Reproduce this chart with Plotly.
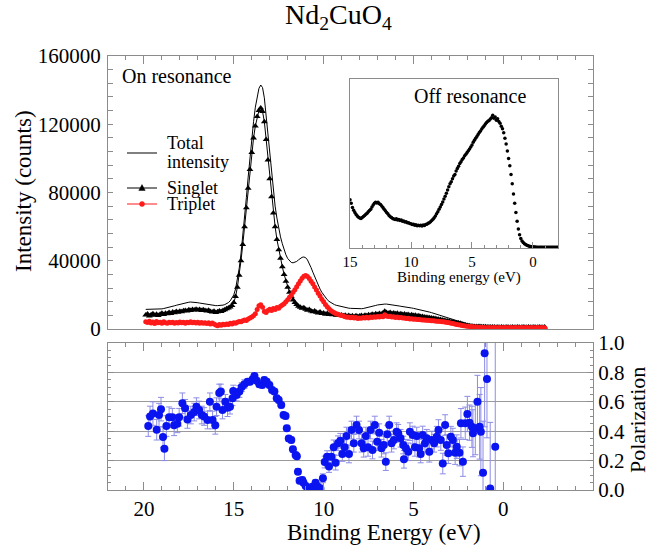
import numpy as np
import plotly.graph_objects as go

# ---------------- data ----------------
# On-resonance spectra: binding energy grid 19.9 ... -2.3 eV (0.1 eV steps)
energy_on = np.round(np.arange(199, -24, -1) * 0.1, 1)

# intensities in thousands of counts
total_k = [
    11.5, 11.5, 11.4, 11.4, 11.4, 11.5, 11.5, 11.6, 11.7, 11.8,
    12.0, 12.2, 12.4, 12.7, 13.0, 13.3, 13.6, 13.9, 14.2, 14.5,
    14.8, 15.1, 15.3, 15.5, 15.7, 15.8, 15.8, 15.7, 15.6, 15.4,
    15.2, 15.0, 14.8, 14.6, 14.4, 14.2, 14.0, 13.9, 13.8, 13.7,
    13.7, 13.7, 13.8, 14.0, 14.3, 14.8, 15.5, 16.5, 18.0, 20.0,
    23.5, 28.5, 35.5, 44.0, 54.0, 65.0, 77.0, 89.0, 101.0, 112.0,
    121.5, 130.0, 136.5, 141.0, 143.0, 141.5, 135.5, 125.0, 113.0, 101.0,
    90.0, 80.5, 72.0, 65.0, 59.0, 54.0, 50.0, 46.5, 43.5, 41.3,
    39.8, 39.0, 38.8, 39.0, 39.6, 40.5, 41.3, 42.0, 42.2, 41.8,
    40.5, 38.5, 36.0, 33.3, 30.6, 28.0, 25.6, 23.4, 21.5, 19.8,
    18.4, 17.2, 16.2, 15.4, 14.8, 14.3, 13.9, 13.6, 13.3, 13.0,
    12.8, 12.6, 12.4, 12.2, 12.1, 12.0, 11.9, 11.9, 11.8, 11.8,
    11.9, 12.0, 12.2, 12.4, 12.6, 12.9, 13.2, 13.5, 13.8, 14.1,
    14.3, 14.5, 14.6, 14.6, 14.6, 14.5, 14.3, 14.1, 13.9, 13.7,
    13.6, 13.5, 13.3, 13.2, 13.0, 12.8, 12.6, 12.5, 12.3, 12.1,
    11.9, 11.7, 11.5, 11.2, 11.0, 10.7, 10.5, 10.2, 9.9, 9.6,
    9.3, 9.0, 8.7, 8.4, 8.1, 7.8, 7.5, 7.1, 6.8, 6.4,
    6.0, 5.6, 5.2, 4.9, 4.5, 4.1, 3.7, 3.3, 3.0, 2.7,
    2.5, 2.3, 2.2, 2.1, 2.0, 1.9, 1.9, 1.8, 1.8, 1.8,
    1.7, 1.7, 1.7, 1.7, 1.7, 1.7, 1.7, 1.7, 1.7, 1.7,
    1.7, 1.7, 1.7, 1.7, 1.7, 1.7, 1.7, 1.7, 1.7, 1.7,
    1.7, 1.7, 1.7, 1.7, 1.7, 1.7, 1.7, 1.7, 1.7, 1.7,
    1.7, 1.7, 1.7,
]

singlet_k = [
    8.2, 8.8, 7.6, 8.4, 9.0, 8.1, 8.7, 7.9, 8.6, 9.2,
    8.5, 9.3, 8.9, 9.6, 9.1, 9.9, 9.5, 10.2, 9.8, 10.4,
    10.1, 10.7, 10.9, 10.5, 11.3, 10.9, 11.5, 11.1, 11.6, 11.2,
    11.4, 10.9, 11.3, 10.8, 10.5, 11.0, 10.3, 9.9, 10.4, 9.6,
    10.1, 10.5, 10.2, 10.9, 11.3, 11.8, 12.3, 12.9, 13.8, 15.5,
    19.0, 24.5, 31.5, 40.0, 49.5, 60.0, 71.0, 82.5, 93.5, 103.5,
    112.0, 119.0, 124.5, 128.0, 129.5, 127.5, 121.5, 111.0, 99.0, 88.0,
    77.5, 68.0, 60.0, 52.5, 46.5, 41.5, 36.5, 32.0, 28.0, 24.5,
    21.5, 19.0, 17.0, 15.5, 14.3, 13.4, 12.8, 12.1, 12.5, 11.6,
    11.0, 11.4, 10.6, 10.1, 10.5, 9.8, 9.4, 9.9, 9.1, 9.4,
    8.7, 9.1, 8.5, 8.9, 8.3, 8.6, 8.0, 8.4, 7.9, 8.2,
    7.7, 8.1, 7.5, 7.9, 7.3, 7.8, 7.2, 7.7, 7.3, 7.6,
    7.9, 7.5, 8.1, 7.8, 8.4, 8.0, 8.6, 8.3, 8.9, 8.5,
    9.1, 8.8, 9.4, 10.4, 9.7, 9.3, 9.6, 9.1, 9.4, 8.9,
    9.2, 8.7, 9.0, 8.5, 8.8, 8.3, 8.5, 8.1, 8.3, 7.9,
    8.0, 7.6, 7.7, 7.3, 7.3, 7.0, 6.9, 6.7, 6.6, 6.4,
    6.3, 6.1, 5.9, 5.7, 5.5, 5.3, 5.1, 4.9, 4.7, 4.5,
    4.3, 4.1, 3.9, 3.7, 3.5, 3.3, 3.0, 2.7, 2.4, 2.1,
    1.9, 1.7, 1.6, 1.5, 1.5, 1.4, 1.4, 1.3, 1.3, 1.3,
    1.2, 1.1, 1.2, 1.1, 1.1, 1.0, 1.1, 1.0, 1.1, 1.0,
    1.0, 1.1, 1.0, 1.0, 1.1, 1.0, 1.0, 1.1, 1.0, 1.0,
    1.1, 1.0, 1.0, 1.1, 1.0, 1.0, 1.1, 1.0, 1.0, 1.1,
    1.0, 1.0, 1.1,
]

triplet_k = [
    4.3, 3.8, 4.6, 3.5, 4.1, 3.2, 4.4, 3.6, 4.0, 3.3,
    4.2, 3.7, 3.4, 4.0, 3.6, 3.9, 3.3, 3.8, 3.5, 4.1,
    3.6, 3.9, 3.4, 4.0, 3.7, 4.2, 3.6, 3.9, 3.5, 4.0,
    3.4, 3.8, 3.3, 3.7, 3.2, 3.6, 3.0, 3.5, 2.9, 2.3,
    1.9, 2.6, 2.2, 2.8, 2.5, 3.0, 2.7, 3.3, 3.0, 3.6,
    3.4, 4.0, 4.4, 4.2, 4.9, 5.3, 5.0, 5.9, 6.4, 7.0,
    7.8, 9.0, 11.5, 13.6, 14.2, 12.8, 10.2, 9.6, 10.8, 11.6,
    10.9, 12.0, 11.4, 12.6, 12.2, 13.3, 14.0, 14.8, 15.9, 17.2,
    18.6, 19.8, 21.5, 23.0, 24.8, 26.5, 28.2, 29.8, 30.9, 31.4,
    30.8, 29.6, 28.0, 26.5, 24.6, 22.8, 21.0, 19.3, 17.5, 15.9,
    14.3, 13.0, 11.8, 10.9, 10.1, 9.5, 8.9, 8.6, 8.2, 7.9,
    7.6, 7.2, 6.9, 7.1, 6.6, 6.9, 6.4, 6.7, 6.2, 6.5,
    6.3, 6.7, 6.4, 6.9, 6.5, 7.0, 6.7, 7.2, 6.9, 7.3,
    7.0, 7.5, 7.2, 8.3, 7.6, 7.3, 7.5, 7.0, 7.2, 6.8,
    7.0, 6.6, 6.8, 6.4, 6.5, 6.1, 6.3, 5.9, 6.0, 5.7,
    5.8, 5.6, 5.5, 5.4, 5.3, 5.3, 5.2, 5.1, 5.0, 4.9,
    4.8, 4.7, 4.6, 4.5, 4.4, 4.3, 4.2, 4.0, 3.8, 3.6,
    3.4, 3.2, 2.9, 2.7, 2.5, 2.3, 2.1, 1.9, 1.8, 1.6,
    1.5, 1.4, 1.3, 1.2, 1.1, 1.0, 1.0, 0.9, 0.9, 0.8,
    0.8, 0.9, 0.8, 0.8, 0.9, 0.8, 0.8, 0.9, 0.8, 0.8,
    0.9, 0.8, 0.8, 0.9, 0.8, 0.8, 0.9, 0.8, 0.8, 0.9,
    0.8, 0.8, 0.9, 0.8, 0.8, 0.9, 0.8, 0.8, 0.9, 0.8,
    0.8, 0.9, 0.8,
]

total = [v * 1000 for v in total_k]
singlet = [v * 1000 for v in singlet_k]
triplet = [v * 1000 for v in triplet_k]

# Off-resonance spectrum (inset), arbitrary units, 15.0 ... -2.0 eV
energy_off = np.round(np.arange(150, -21, -1) * 0.1, 1)
off_res = [
    28.5, 26.5, 24.0, 22.3, 21.0, 19.8, 19.0, 18.2, 17.8, 17.5,
    18.0, 18.6, 19.2, 20.0, 20.6, 21.5, 22.2, 23.0, 24.2, 25.4,
    26.5, 27.0, 26.6, 27.0, 26.2, 25.8, 24.9, 23.9, 23.0, 22.0,
    21.0, 20.2, 19.2, 18.5, 18.0, 17.4, 17.1, 16.8, 17.3, 16.6,
    16.9, 16.3, 16.6, 15.9, 16.0, 15.4, 15.6, 15.0, 14.9, 14.5,
    14.3, 13.9, 14.1, 13.5, 13.8, 13.2, 13.5, 13.1, 13.4, 13.0,
    13.6, 13.3, 13.9, 14.1, 14.6, 14.9, 15.6, 16.2, 17.0, 17.9,
    19.0, 20.3, 21.5, 23.0, 24.3, 25.8, 27.2, 29.0, 30.6, 32.4,
    34.3, 36.2, 38.0, 39.2, 41.0, 42.6, 43.5, 45.5, 47.0, 48.3,
    50.0, 51.0, 52.3, 53.3, 54.6, 55.4, 56.5, 57.5, 58.6, 59.8,
    61.0, 62.6, 63.8, 64.9, 66.0, 67.2, 68.3, 69.2, 70.4, 71.5,
    72.4, 73.4, 74.2, 75.0, 75.5, 76.4, 77.0, 78.6, 76.8, 77.5,
    75.6, 76.5, 74.8, 73.8, 72.0, 70.6, 68.2, 65.0, 61.5, 57.4,
    53.0, 48.6, 43.5, 38.0, 32.0, 26.5, 21.0, 15.8, 11.2, 7.8,
    5.6, 4.2, 3.2, 2.5, 2.0, 1.6, 1.3, 1.1, 0.9, 0.8,
    0.7, 0.6, 0.6, 0.5, 0.5, 0.5, 0.5, 0.5, 0.5, 0.5,
    0.5, 0.5, 0.5, 0.5, 0.5, 0.5, 0.5, 0.5, 0.5, 0.5, 0.5,
]

# Polarization (lower panel)
pol_energy = [
    19.76, 19.66, 19.50, 19.29, 19.16, 19.05, 18.94, 18.86, 18.75, 18.60,
    18.42, 18.32, 18.14, 18.04, 17.86, 17.71, 17.58, 17.39, 17.20, 17.08,
    16.93, 16.78, 16.65, 16.46, 16.33, 16.18, 16.03, 15.96, 15.81, 15.72,
    15.63, 15.47, 15.35, 15.21, 15.07, 15.03, 14.84, 14.69, 14.56, 14.41,
    14.23, 14.10, 13.95, 13.85, 13.73, 13.58, 13.42, 13.30, 13.17, 13.02,
    12.87, 12.74, 12.61, 12.50, 12.36, 12.23, 12.12, 12.05, 11.94, 11.80,
    11.71, 11.56, 11.49, 11.43, 11.34, 11.19, 11.12, 11.00, 10.88, 10.78,
    10.63, 10.56, 10.45, 10.32, 10.18, 10.04, 9.94, 9.81, 9.70, 9.57,
    9.44, 9.33, 9.20, 9.07, 8.96, 8.83, 8.73, 8.59, 8.45, 8.32,
    8.17, 8.03, 7.89, 7.77, 7.65, 7.53, 7.39, 7.28, 7.15, 7.02,
    6.91, 6.78, 6.65, 6.54, 6.46, 6.35, 6.22, 6.09, 5.94, 5.85,
    5.72, 5.57, 5.53, 5.42, 5.29, 5.20, 5.04, 4.92, 4.82, 4.68,
    4.60, 4.49, 4.36, 4.26, 4.12, 3.98, 3.85, 3.70, 3.61, 3.48,
    3.37, 3.24, 3.15, 3.06, 2.92, 2.81, 2.68, 2.59, 2.44, 2.36,
    2.25, 2.12, 2.00, 1.88, 1.75, 1.69, 1.56, 1.44, 1.32, 1.25,
    1.13, 1.04, 0.91, 0.73, 0.45,
]
pol_value = [
    0.435, 0.50, 0.52, 0.41, 0.51, 0.55, 0.36, 0.28, 0.435, 0.495,
    0.495, 0.44, 0.45, 0.495, 0.59, 0.556, 0.48, 0.51, 0.53, 0.567,
    0.544, 0.51, 0.50, 0.476, 0.60, 0.476, 0.44, 0.567, 0.66, 0.67,
    0.544, 0.60, 0.56, 0.567, 0.624, 0.673, 0.646, 0.67, 0.70, 0.72,
    0.737, 0.737, 0.753, 0.776, 0.744, 0.72, 0.714, 0.748, 0.737, 0.714,
    0.68, 0.67, 0.624, 0.612, 0.578, 0.51, 0.503, 0.42, 0.35, 0.34,
    0.277, 0.238, 0.23, 0.125, 0.063, 0.068, 0.05, 0.027, 0.0, 0.005,
    0.022, 0.0, 0.05, 0.022, 0.01, 0.08, 0.19, 0.227, 0.16, 0.227,
    0.29, 0.186, 0.318, 0.335, 0.245, 0.29, 0.367, 0.245, 0.408, 0.318,
    0.442, 0.408, 0.318, 0.284, 0.367, 0.29, 0.408, 0.272, 0.442, 0.329,
    0.39, 0.284, 0.306, 0.193, 0.38, 0.442, 0.318, 0.34, 0.397, 0.386,
    0.352, 0.306, 0.209, 0.284, 0.26, 0.397, 0.374, 0.29, 0.367, 0.284,
    0.245, 0.374, 0.318, 0.352, 0.26, 0.34, 0.318, 0.363, 0.408, 0.34,
    0.18, 0.442, 0.306, 0.25, 0.363, 0.34, 0.254, 0.295, 0.254, 0.454,
    0.193, 0.454, 0.517, 0.458, 0.43, 0.386, 0.42, 0.60, 0.43, 0.397,
    0.118, 0.93, 0.755, 0.01, 0.295,
]
pol_error = [
    0.07, 0.07, 0.08, 0.07, 0.08, 0.08, 0.07, 0.08, 0.07, 0.07,
    0.06, 0.07, 0.06, 0.06, 0.07, 0.06, 0.06, 0.06, 0.06, 0.06,
    0.06, 0.06, 0.06, 0.06, 0.06, 0.06, 0.06, 0.06, 0.06, 0.05,
    0.06, 0.05, 0.06, 0.05, 0.05, 0.04, 0.04, 0.04, 0.03, 0.03,
    0.02, 0.02, 0.02, 0.02, 0.02, 0.02, 0.02, 0.02, 0.02, 0.02,
    0.02, 0.02, 0.02, 0.02, 0.02, 0.02, 0.02, 0.02, 0.02, 0.02,
    0.02, 0.02, 0.02, 0.02, 0.02, 0.02, 0.02, 0.02, 0.02, 0.02,
    0.02, 0.02, 0.02, 0.03, 0.03, 0.03, 0.04, 0.04, 0.04, 0.04,
    0.05, 0.05, 0.05, 0.05, 0.05, 0.05, 0.06, 0.06, 0.06, 0.06,
    0.06, 0.06, 0.06, 0.06, 0.06, 0.06, 0.06, 0.06, 0.06, 0.06,
    0.06, 0.06, 0.06, 0.06, 0.06, 0.06, 0.06, 0.06, 0.06, 0.06,
    0.06, 0.06, 0.06, 0.06, 0.06, 0.06, 0.06, 0.06, 0.06, 0.06,
    0.06, 0.06, 0.06, 0.06, 0.07, 0.06, 0.06, 0.07, 0.07, 0.07,
    0.07, 0.07, 0.07, 0.07, 0.07, 0.08, 0.08, 0.08, 0.09, 0.10,
    0.10, 0.11, 0.12, 0.12, 0.14, 0.16, 0.18, 0.18, 0.22, 0.30,
    0.35, 0.50, 0.40, 0.45, 1.20,
]

# legend labels (drawn as a hand-placed key like the original)
legend_names = ["Total", "intensity", "Singlet", "Triplet"]

# ---------------- figure ----------------
FONT = "Liberation Serif"
FRAME = "#8c8c8c"
RED = "#ff1a1a"

fig = go.Figure()
fig.add_trace(go.Scatter(
    x=energy_on, y=total, xaxis="x2", yaxis="y2", mode="lines",
    line=dict(color="black", width=1), name="Total intensity"))
fig.add_trace(go.Scatter(
    x=energy_on, y=singlet, xaxis="x2", yaxis="y2", mode="lines+markers",
    line=dict(color="black", width=1),
    marker=dict(symbol="triangle-up", size=6, color="black"), name="Singlet"))
fig.add_trace(go.Scatter(
    x=energy_on, y=triplet, xaxis="x2", yaxis="y2", mode="lines+markers",
    line=dict(color=RED, width=1),
    marker=dict(symbol="circle", size=5, color=RED), name="Triplet"))
fig.add_trace(go.Scatter(
    x=pol_energy, y=pol_value, xaxis="x", yaxis="y", mode="markers",
    marker=dict(color="#0a14f0", size=8),
    error_y=dict(type="data", array=pol_error, color="#8c8ce6", thickness=1, width=3),
    name="Polarization"))
fig.add_trace(go.Scatter(
    x=energy_off, y=off_res, xaxis="x3", yaxis="y3", mode="markers",
    marker=dict(color="black", size=3.5), name="Off resonance"))

W, H = 651, 547
L, R, T, B = 108, 58, 56, 57
PW = W - L - R
PH = H - T - B


def py(px):
    return (H - B - px) / PH


def px_x(px):
    return (px - L) / PW


tickfont = dict(family=FONT, size=21, color="black")
common = dict(showline=True, linecolor=FRAME, linewidth=1, tickcolor=FRAME,
              zeroline=False, showgrid=False, ticks="inside")

fig.update_layout(
    width=W, height=H,
    margin=dict(l=L, r=R, t=T, b=B, autoexpand=False),
    paper_bgcolor="white", plot_bgcolor="white",
    font=dict(family=FONT, color="black"),
    showlegend=False,
    xaxis=dict(domain=[0, 1], anchor="y", range=[22, -4.99], tick0=0, dtick=5,
               ticklen=8, mirror="ticks", tickfont=tickfont, ticklabelstandoff=0,
               minor=dict(dtick=1, ticklen=4, ticks="inside", tickcolor=FRAME),
               **common),
    yaxis=dict(domain=[0, py(343)], anchor="x", side="right", range=[0, 1],
               dtick=0.2, tickformat=".1f", ticklen=6, mirror="ticks",
               tickfont=tickfont, ticklabelstandoff=0,
               minor=dict(dtick=0.05, ticklen=3, ticks="inside", tickcolor=FRAME),
               **{k: v for k, v in common.items() if k != "showgrid"},
               showgrid=True, gridcolor="#9a9a9a", gridwidth=1),
    xaxis2=dict(domain=[0, 1], anchor="y2", matches="x", side="top",
                showticklabels=False, tick0=0, dtick=5, ticklen=8, mirror=True,
                minor=dict(dtick=1, ticklen=4, ticks="inside", tickcolor=FRAME),
                **common),
    yaxis2=dict(domain=[py(329), 1], anchor="x2", range=[0, 160000], dtick=40000,
                tickformat="d", ticklen=5, mirror="ticks", tickfont=tickfont,
                ticklabelstandoff=2,
                minor=dict(dtick=8000, ticklen=5, ticks="inside", tickcolor=FRAME),
                **common),
    xaxis3=dict(domain=[px_x(350), px_x(558)], anchor="y3", range=[15, -2.05],
                tick0=0, dtick=5, ticklen=6, mirror=True,
                tickfont=dict(family=FONT, size=15, color="black"),
                ticklabelstandoff=0,
                minor=dict(dtick=1, ticklen=3, ticks="inside", tickcolor=FRAME),
                **common),
    yaxis3=dict(domain=[py(248), py(79)], anchor="x3", range=[0, 100],
                showticklabels=False, mirror=True, showline=True,
                linecolor=FRAME, zeroline=False, showgrid=False, ticks=""),
)

annotations = [
    dict(text="Nd<sub>2</sub>CuO<sub>4</sub>", x=px_x(338), y=py(17),
         font=dict(size=28)),
    dict(text="On resonance", x=px_x(120), y=py(76), xanchor="left",
         font=dict(size=20)),
    dict(text="Off resonance", x=px_x(470), y=py(96), font=dict(size=20)),
    dict(text="Binding energy (eV)", x=px_x(459), y=py(277), font=dict(size=15)),
    dict(text="Intensity (counts)", x=px_x(23), y=py(191), textangle=-90,
         font=dict(size=23)),
    dict(text="Binding Energy (eV)", x=px_x(384), y=py(532), font=dict(size=23)),
    dict(text="Polarization", x=px_x(637), y=py(420), textangle=-90,
         font=dict(size=22)),
]
# key text
for name, ypix in zip(legend_names, [143, 162, 188, 204]):
    annotations.append(dict(text=name, x=px_x(165), y=py(ypix), xanchor="left",
                            font=dict(size=18)))
for a in annotations:
    a.setdefault("xanchor", "center")
    a.update(xref="paper", yref="paper", yanchor="middle", showarrow=False)
    a["font"].update(family=FONT, color="black")

# key glyphs (line samples + symbols)
shapes = []
for ypix, col in [(153, "black"), (188, "black"), (204, RED)]:
    shapes.append(dict(type="line", xref="paper", yref="paper",
                       x0=px_x(127), x1=px_x(157), y0=py(ypix), y1=py(ypix),
                       line=dict(color=col, width=1)))
cx = 142
tri = "M {:.5f},{:.5f} L {:.5f},{:.5f} L {:.5f},{:.5f} Z".format(
    px_x(cx - 3.2), py(188 + 2.4), px_x(cx + 3.2), py(188 + 2.4), px_x(cx), py(188 - 3.4))
shapes.append(dict(type="path", xref="paper", yref="paper", path=tri,
                   fillcolor="black", line=dict(color="black", width=0.5)))
shapes.append(dict(type="circle", xref="paper", yref="paper",
                   x0=px_x(cx - 2.5), x1=px_x(cx + 2.5), y0=py(204 + 2.5), y1=py(204 - 2.5),
                   fillcolor=RED, line=dict(color=RED, width=0.5)))

fig.update_layout(annotations=annotations, shapes=shapes)

fig.write_html("out.html", config={"displayModeBar": False},
               post_script="document.body.style.margin='0';")
